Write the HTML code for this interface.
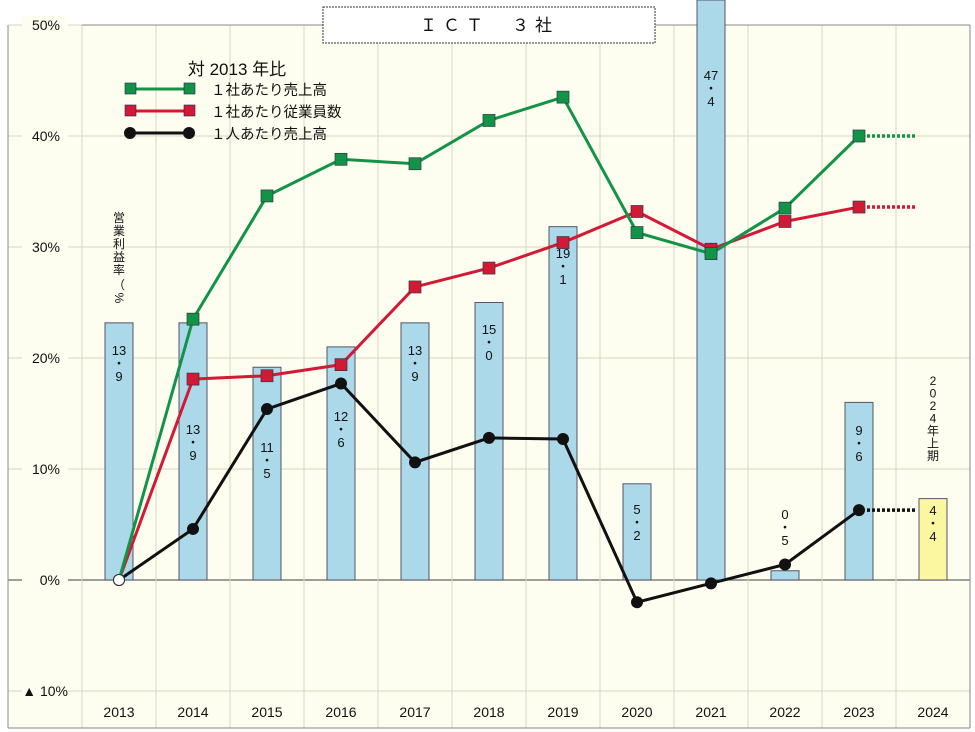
<!DOCTYPE html>
<html><head><meta charset="utf-8"><style>
body{margin:0;background:#fff;}
svg{display:block;font-family:"Liberation Sans","Noto Sans CJK JP",sans-serif;}
</style></head><body>
<svg id="chart" width="975" height="732" viewBox="0 0 975 732" xmlns="http://www.w3.org/2000/svg">
<rect x="8" y="25" width="962" height="703" fill="#fdfdf0"/>
<g id="grid"></g>
<g id="bars"></g>
<g id="lines"></g>
<g id="labels"></g>
<rect x="323" y="7" width="332" height="36" fill="#fff" stroke="#333" stroke-dasharray="2,1"/>
<text x="489" y="31" text-anchor="middle" font-size="17" letter-spacing="6" fill="#111">ＩＣＴ　３社</text>
<g>
<text x="237" y="75" text-anchor="middle" font-size="17" fill="#111">対 2013 年比</text>
<line x1="130" y1="89" x2="189" y2="89" stroke="#129447" stroke-width="3"/>
<rect x="125" y="83" width="11" height="11" fill="#129447" stroke="#225" stroke-width="0.6"/><rect x="184" y="83" width="11" height="11" fill="#129447" stroke="#225" stroke-width="0.6"/>
<text x="211" y="95" font-size="14.5" fill="#111">１社あたり売上高</text>
<line x1="130" y1="111" x2="189" y2="111" stroke="#d21a35" stroke-width="3"/>
<rect x="125" y="105" width="11" height="11" fill="#d21a35" stroke="#225" stroke-width="0.6"/><rect x="184" y="105" width="11" height="11" fill="#d21a35" stroke="#225" stroke-width="0.6"/>
<text x="211" y="117" font-size="14.5" fill="#111">１社あたり従業員数</text>
<line x1="130" y1="133" x2="189" y2="133" stroke="#111" stroke-width="3"/>
<circle cx="130" cy="133" r="6" fill="#111"/><circle cx="189" cy="133" r="6" fill="#111"/>
<text x="211" y="139" font-size="14.5" fill="#111">１人あたり売上高</text>
</g>
<g id="vtexts"></g>
</svg>
<script>
const years=["2013","2014","2015","2016","2017","2018","2019","2020","2021","2022","2023","2024"];
const margin=[13.9,13.9,11.5,12.6,13.9,15.0,19.1,5.2,47.4,0.5,9.6,4.4];
const marginLabels=["13・9","13・9","11・5","12・6","13・9","15・0","19・1","5・2","47・4","0・5","9・6","4・4"];
const salesPerCompany=[0,23.5,34.6,37.9,37.5,41.4,43.5,31.3,29.4,33.5,40.0];
const employeesPerCompany=[0,18.1,18.4,19.4,26.4,28.1,30.4,33.2,29.8,32.3,33.6];
const salesPerPerson=[0,4.6,15.4,17.7,10.6,12.8,12.7,-2.0,-0.3,1.4,6.3];
const yTicks=[50,40,30,20,10,0,-10];
const yTickLabels=["50%","40%","30%","20%","10%","0%","▲ 10%"];
const labelTop=[343,422,440,409,343,322,246,502,68,507,423,503];

const NS="http://www.w3.org/2000/svg";
const x=i=>119+i*74;
const y=v=>580-v*11.1;
const yb=v=>580-v/0.6*11.1;
function mk(p,t,a){const e=document.createElementNS(NS,t);for(const k in a)e.setAttribute(k,a[k]);p.appendChild(e);return e;}
const grid=document.getElementById('grid'),bars=document.getElementById('bars'),lines=document.getElementById('lines'),labels=document.getElementById('labels'),vt=document.getElementById('vtexts');
yTicks.forEach((t,i)=>{
 const g=mk(grid,'line',{x1:8,x2:970,y1:y(t),y2:y(t),stroke:t===0?'#666':'#d6d6c0','stroke-width':t===0?1.2:1});
 
 
 mk(grid,'rect',{x:22,y:y(t)-9,width:46,height:18,fill:'#fdfdf0'});
 const l=mk(grid,'text',{x:t<0?68:60,y:y(t)+5,'text-anchor':'end','font-size':14,fill:'#111'});
 l.textContent=yTickLabels[i];
 
 
});
for(let i=0;i<=12;i++){mk(grid,'line',{x1:82+i*74,x2:82+i*74,y1:25,y2:728,stroke:'#d6d6c0'});}
mk(grid,'line',{x1:8,x2:8,y1:25,y2:728,stroke:'#888'});
mk(grid,'line',{x1:970,x2:970,y1:25,y2:728,stroke:'#888'});
mk(grid,'line',{x1:8,x2:970,y1:728,y2:728,stroke:'#888'});
mk(grid,'line',{x1:82,x2:970,y1:25,y2:25,stroke:'#888'});
years.forEach((yr,i)=>{
 const t=mk(grid,'text',{x:x(i),y:717,'text-anchor':'middle','font-size':14,fill:'#111'});
 t.textContent=yr;
 
 
});
margin.forEach((v,i)=>{
 const top=Math.max(yb(v),0);
 const b=mk(bars,'rect',{x:x(i)-14,y:top,width:28,height:580-top,fill:i===11?'#fbf7a0':'#acd9ea',stroke:'#556'});
 
 
 const parts=marginLabels[i].split('・');
 const ty=labelTop[i];
 [[parts[0],ty+12],['・',ty+25],[parts[1],ty+38]].forEach(([s,yy])=>{const t=mk(labels,'text',{x:x(i),y:yy,'text-anchor':'middle','font-size':13,fill:'#111'});t.textContent=s;});
});
function vtext(str,cx,y0,step,fs,name){
 const g=mk(vt,'text',{'font-size':fs,fill:'#111','text-anchor':'middle'});
 
 
 [...str].forEach((c,k)=>{const s=mk(g,'tspan',{x:cx,y:y0+k*step});s.textContent=c;});
}
vtext("営業利益率",119,222,13,12,'bar-axis-title');
mk(vt,'text',{x:119,y:289,'font-size':12,'text-anchor':'middle',fill:'#111'}).textContent="（";
mk(vt,'text',{x:119,y:302,'font-size':12,'text-anchor':'middle',fill:'#111',transform:'rotate(90 119 298)'}).textContent="%";
vtext("2024年上期",933,385,12.5,12,'h1-2024-note');
function series(vals,color,marker,name){
 const pts=vals.map((v,i)=>x(i)+','+y(v)).join(' ');
 const pl=mk(lines,'polyline',{points:pts,fill:'none',stroke:color,'stroke-width':3});
 
 
 const last=vals.length-1;
 mk(lines,'line',{x1:x(last)+8,x2:x(last)+56,y1:y(vals[last]),y2:y(vals[last]),stroke:color,'stroke-width':3.5,'stroke-dasharray':'3,2'});
 vals.forEach((v,i)=>{
  let m;
  if(i===0){m=mk(lines,'circle',{cx:x(i),cy:y(v),r:5.5,fill:'#fff',stroke:'#333'});}
  else if(marker==='sq'){m=mk(lines,'rect',{x:x(i)-6,y:y(v)-6,width:12,height:12,fill:color,stroke:'#334','stroke-width':0.7});}
  else {m=mk(lines,'circle',{cx:x(i),cy:y(v),r:6,fill:color});}
  
  
 });
}
series(employeesPerCompany,'#d21a35','sq','employees-per-company');
series(salesPerCompany,'#129447','sq','sales-per-company');
series(salesPerPerson,'#111','c','sales-per-person');
</script>
</body></html>
